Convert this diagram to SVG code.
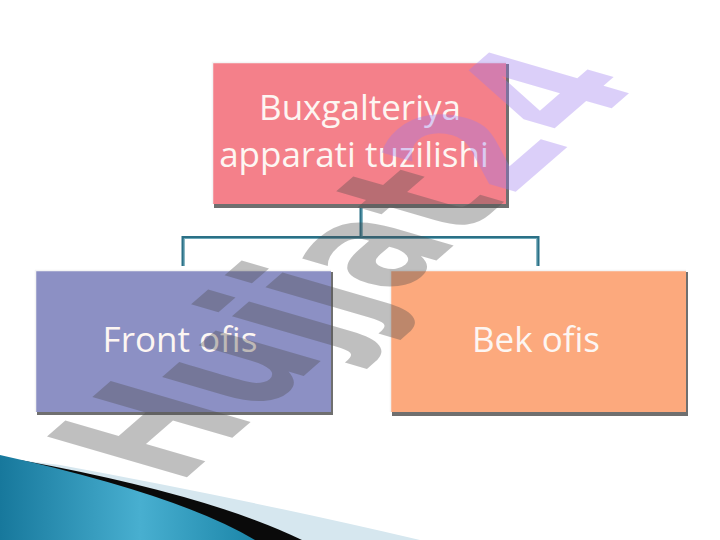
<svg xmlns="http://www.w3.org/2000/svg" width="720" height="540" viewBox="0 0 720 540">
<defs>
<linearGradient id="blueG" x1="0" y1="0" x2="1" y2="0">
<stop offset="0" stop-color="#17789c"/>
<stop offset="0.55" stop-color="#48afd0"/>
<stop offset="1" stop-color="#1c86a9"/>
</linearGradient>
<style>
.lbl{font-family:"Open Sans","Noto Sans",sans-serif;font-size:35px;fill:#fdf6f2;text-anchor:middle}
.shadow{fill:#6f6f6f}
.hl{fill:none;stroke:#f4f4f4;stroke-width:1.5}
.conn{fill:none;stroke:#2b7086;stroke-width:3}
.conn2{fill:none;stroke:#7fb7c6;stroke-width:0.8}
.wm{font-family:"DejaVu Sans",sans-serif;font-weight:bold;font-size:100px;opacity:0.35}
</style>
</defs>
<rect width="720" height="540" fill="#ffffff"/>
<g id="decoration">
<path d="M60,465 Q250,500 420,540 L0,540 L0,458 Z" fill="#d6e7ef"/>
<path d="M20,460 Q210,495 302,540 L0,540 Z" fill="#0a0a0a"/>
<path d="M0,455 Q180,495 255,540 L0,540 Z" fill="url(#blueG)"/>
</g>
<g id="connectors">
<path class="conn" d="M361,207 V237.5 M183,266 V237.5 H538 V266"/>
<path class="conn2" d="M362,208 V236.5 M184,266 V238.5 H537 V266"/>
</g>
<g id="node-top">
<rect class="shadow" x="214" y="64" width="295" height="144"/>
<rect x="212" y="62" width="294" height="142" fill="#f4808a"/>
<path class="hl" d="M212.5,204 V62.5 H506"/>
<text class="lbl" x="360" y="120">Buxgalteriya</text>
<text class="lbl" x="354" y="167">apparati tuzilishi</text>
</g>
<g id="node-front">
<rect class="shadow" x="37" y="272" width="296" height="143"/>
<rect x="35" y="270" width="296" height="142" fill="#8c90c4"/>
<path class="hl" d="M35.5,412 V270.5 H331"/>
<text class="lbl" x="180" y="352">Front ofis</text>
</g>
<g id="node-back">
<rect class="shadow" x="392" y="272" width="296" height="144"/>
<rect x="390" y="270" width="296" height="142" fill="#fca97d"/>
<path class="hl" d="M390.5,412 V270.5 H686"/>
<text class="lbl" x="536" y="352">Bek ofis</text>
</g>
<g id="watermark">
<text class="wm" transform="matrix(0.974,-0.846,1.92,0.56,178,485)"><tspan fill="#4b4b4b">Hujjat</tspan><tspan fill="#9b79f0">24</tspan></text>
</g>
</svg>
